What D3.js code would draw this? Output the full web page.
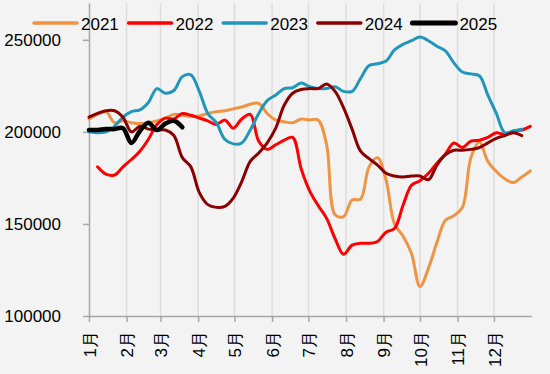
<!DOCTYPE html>
<html>
<head>
<meta charset="utf-8">
<script src="https://cdn.jsdelivr.net/npm/d3@7"></script>
<style>
  html, body { margin: 0; padding: 0; background: #f3f3f3; }
  svg { display: block; font-family: "Liberation Sans", Arial, sans-serif; }
</style>
</head>
<body>
<figure id="lineChart" style="margin:0"></figure>
<script>
// month labels and the day of year where each month starts
const months = ["1月","2月","3月","4月","5月","6月","7月","8月","9月","10月","11月","12月"];
const monthStart = [0,31,59,90,120,151,181,212,243,273,304,334];
const yTicks = [100000,150000,200000,250000];
const years = ["2021","2022","2023","2024","2025"];

// weekly points, day of year = week * 7
const v2021 = [207000,209500,211000,205000,206000,205000,204500,205000,206000,207500,209500,209000,208500,208700,
  210000,211000,211500,212500,213500,215000,215500,210000,206500,205500,205000,207000,206500,206500,193000,155000,
  154000,163000,163500,181000,186000,174000,150000,143500,134000,116000,126000,140000,152000,154500,159000,186000,
  194500,184000,178500,174500,172500,175500,178800];
const v2022 = [null,181000,177000,176500,181000,185000,189500,196000,204000,207500,207000,210000,209000,207500,
  206000,204000,206500,202000,207000,209500,195000,190500,193000,195500,197000,180000,168000,160000,153000,142000,
  133500,138500,139500,139500,140500,145500,147500,160000,171000,173500,177500,183000,188000,194000,191500,195000,
  195500,197000,199500,198500,200500,201000,203000];
const v2023 = [200000,199500,200000,203000,208000,211000,212000,216000,223500,221000,222500,230000,231000,222000,
  210000,205000,196000,193500,194000,201000,210000,217000,220000,223500,224000,226500,224500,223500,223500,224500,
  222000,222000,229000,236000,237000,238500,244500,247500,249500,251500,249500,246500,244000,237500,232500,231500,
  230500,220000,210000,199500,200500,201500,null];
const v2024 = [208000,210000,211500,211500,208000,200000,203000,201500,201000,201000,198000,186000,181000,167000,
  160500,159000,159500,164000,173000,184000,188500,194000,202000,214500,221000,223000,223500,223500,226000,222000,
  213000,201500,189500,185500,182000,177500,176000,175500,176000,176000,174000,182000,187500,190000,190000,190500,
  191500,194000,196500,198000,199500,198000,null];
const v2025 = [201000,201000,201500,201500,202000,194000,200500,205000,201000,204500,206000,202500];

const colorArray = ["#ee9444","#ff0000","#2196bd","#8b0000","#000000"];
const widthArray = [3,3,3,3,4.5];

createLineChart();

function createLineChart(){
  let width = 550,
  height = 374,
  margin = {top: 3, right: 19, bottom: 58, left: 89};
  const series = [v2021, v2022, v2023, v2024, v2025];

  const svg = d3.select("figure#lineChart")
    .append("svg")
    .attr("width", width)
    .attr("height", height);

  const x = d3.scaleLinear()
    .domain([0, 365])
    .range([margin.left, width - margin.right + 0.5]);

  const y = d3.scaleLinear()
    .domain([100000, 270000])
    .range([height - margin.bottom, margin.top]);

  // vertical grid at month starts
  svg.append("g")
    .selectAll("line")
    .data(monthStart.slice(1))
    .join("line")
    .attr("x1", d => x(d))
    .attr("x2", d => x(d))
    .attr("y1", y(270000))
    .attr("y2", y(100000))
    .attr("stroke", "#dddddd")
    .attr("stroke-width", 1.5);

  // Add X axis
  const xAxis = svg.append("g")
    .attr("transform", `translate(0, ${y(100000)})`)
    .call(d3.axisBottom(x).tickValues(monthStart).tickSize(6).tickSizeOuter(0)
      .tickFormat((d, i) => months[i]));
  xAxis.select(".domain").attr("stroke", "#a6a6a6").attr("stroke-width", 1.5);
  xAxis.selectAll(".tick line").attr("stroke", "#a6a6a6").attr("stroke-width", 1.5);
  xAxis.selectAll(".tick text")
    .attr("font-size", 17)
    .attr("fill", "#000")
    .attr("text-anchor", "end")
    .attr("transform", "rotate(-90)")
    .attr("x", -15)
    .attr("y", 0)
    .attr("dy", "0.36em");

  // Add Y axis
  const yAxis = svg.append("g")
    .attr("transform", `translate(${margin.left},0)`)
    .call(d3.axisLeft(y).tickValues(yTicks).tickSize(6).tickSizeOuter(0).tickFormat(d3.format("d")));
  yAxis.select(".domain").attr("stroke", "#a6a6a6").attr("stroke-width", 1.5);
  yAxis.selectAll(".tick line").attr("stroke", "#a6a6a6").attr("stroke-width", 1.5);
  yAxis.selectAll(".tick text")
    .attr("font-size", 17)
    .attr("fill", "#000")
    .attr("x", -28);

  // the lines
  const line = d3.line()
    .defined(d => d != null)
    .x((d, i) => x(i * 7))
    .y(d => y(d))
    .curve(d3.curveCatmullRom.alpha(0.5));

  svg.append("g")
    .selectAll("path")
    .data(series)
    .join("path")
    .attr("fill", "none")
    .attr("stroke", (d, i) => colorArray[i])
    .attr("stroke-width", (d, i) => widthArray[i])
    .attr("stroke-linejoin", "round")
    .attr("stroke-linecap", "round")
    .attr("d", d => line(d));

  // legend on top
  let legendBase = svg.append("g")
    .attr("transform", "translate(34,23)");

  legendBase.selectAll("line")
    .data(years)
    .join("line")
    .attr("x1", (d, i) => i * 94.6)
    .attr("x2", (d, i) => i * 94.6 + 43)
    .attr("stroke", (d, i) => colorArray[i])
    .attr("stroke-width", (d, i) => i == 4 ? 5 : 3.5)
    .attr("stroke-linecap", "round");

  legendBase.selectAll("text")
    .data(years)
    .join("text")
    .text(d => d)
    .attr("x", (d, i) => i * 94.6 + 47)
    .attr("y", 6.5)
    .attr("font-size", 17)
    .attr("fill", "#000");
}
</script>
</body>
</html>
